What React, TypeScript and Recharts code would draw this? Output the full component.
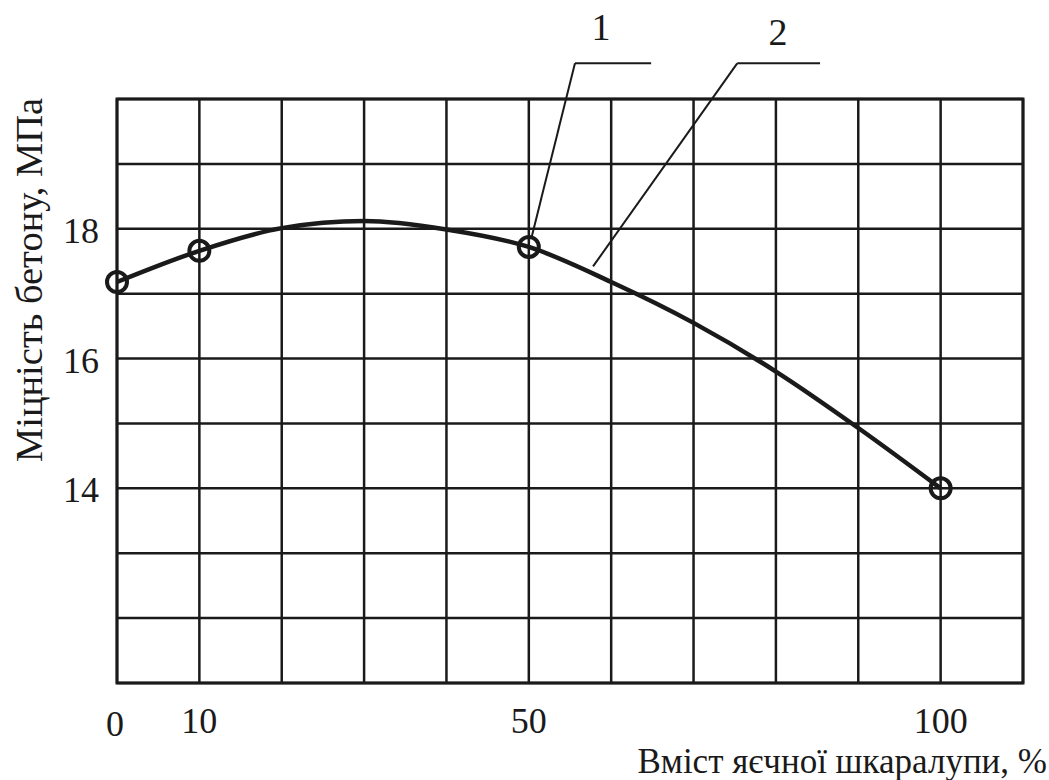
import React from "react"
import {
  ComposedChart,
  Line,
  Scatter,
  XAxis,
  YAxis,
  CartesianGrid,
  ReferenceArea,
  ReferenceLine,
} from "recharts"

// fitted curve, every 10 %
const curveX = [0, 10, 20, 30, 40, 50, 60, 70, 80, 90, 100]
const curveStrength = [17.18, 17.66, 18.01, 18.12, 17.99, 17.72, 17.18, 16.55, 15.8, 14.93, 14.0]

// measured points (circles)
const measuredX = [0, 10, 50, 100]
const measuredStrength = [17.18, 17.66, 17.72, 14.0]

const xGridTicks = [0, 10, 20, 30, 40, 50, 60, 70, 80, 90, 100, 110]
const xTickLabels = [0, 10, 50, 100]
const yGridTicks = [11, 12, 13, 14, 15, 16, 17, 18, 19, 20]
const yTickLabels = [14, 16, 18]

const curveRows = curveX.map((x, i) => ({ x, strength: curveStrength[i] }))
const pointRows = measuredX.map((x, i) => ({ x, strength: measuredStrength[i] }))

const FONT = "Liberation Serif"
const INK = "#1a1a1a"
const txt = (size: number) => ({ fontFamily: FONT, fontSize: size, fill: INK })

function XTick(props: any) {
  const { x, y, payload } = props
  if (!xTickLabels.includes(payload.value)) return <g />
  const zero = payload.value === 0
  return (
    <text x={x - (zero ? 2 : 0)} y={y + (zero ? 53 : 50)} textAnchor="middle" style={txt(36)}>
      {payload.value}
    </text>
  )
}

function YTick(props: any) {
  const { x, y, payload } = props
  if (!yTickLabels.includes(payload.value)) return <g />
  return (
    <text x={x - 18} y={y + 14} textAnchor="end" style={txt(36)}>
      {payload.value}
    </text>
  )
}

function Ring(props: any) {
  const { cx, cy } = props
  return <circle cx={cx} cy={cy} r={10} fill="none" stroke={INK} strokeWidth={4} />
}

function Callout(props: any) {
  const { viewBox, value } = props
  if (!viewBox) return null
  return (
    <text x={viewBox.x} y={viewBox.y} textAnchor="middle" style={txt(38)}>
      {value}
    </text>
  )
}

export default function App() {
  return (
    <div style={{ position: "absolute", left: 0, top: 0, background: "#fff" }}>
      <ComposedChart
        width={1049}
        height={780}
        margin={{ top: 99, right: 26, left: 0, bottom: 0 }}
      >
        <CartesianGrid stroke={INK} strokeWidth={2.5} />
        <XAxis
          type="number"
          dataKey="x"
          domain={[0, 110]}
          ticks={xGridTicks}
          interval={0}
          height={97}
          axisLine={false}
          tickLine={false}
          tickSize={0}
          tickMargin={0}
          tick={<XTick />}
          label={({ viewBox }: any) => (
            <text
              x={viewBox.x + viewBox.width + 24}
              y={viewBox.y + 90}
              textAnchor="end"
              style={txt(35)}
            >
              Вміст яєчної шкаралупи, %
            </text>
          )}
        />
        <YAxis
          type="number"
          domain={[11, 20]}
          ticks={yGridTicks}
          interval={0}
          width={117}
          axisLine={false}
          tickLine={false}
          tickSize={0}
          tickMargin={0}
          tick={<YTick />}
          label={({ viewBox }: any) => {
            const bx = 42
            const cy = viewBox.y + 181
            return (
              <text
                x={bx}
                y={cy}
                transform={`rotate(-90 ${bx} ${cy})`}
                textAnchor="middle"
                style={txt(38.5)}
              >
                Міцність бетону, МПа
              </text>
            )
          }}
        />
        <ReferenceArea x1={0} x2={110} y1={11} y2={20} fill="none" stroke={INK} strokeWidth={3} />

        {/* leader for 1 */}
        <ReferenceLine
          segment={[{ x: 55.6, y: 20.55 }, { x: 64.85, y: 20.55 }]}
          stroke={INK}
          strokeWidth={2}
          ifOverflow="visible"
        />
        <ReferenceLine
          segment={[{ x: 50.3, y: 17.85 }, { x: 55.6, y: 20.55 }]}
          stroke={INK}
          strokeWidth={2}
          ifOverflow="visible"
        />
        {/* leader for 2 */}
        <ReferenceLine
          segment={[{ x: 75.3, y: 20.55 }, { x: 85.36, y: 20.55 }]}
          stroke={INK}
          strokeWidth={2}
          ifOverflow="visible"
        />
        <ReferenceLine
          segment={[{ x: 57.8, y: 17.42 }, { x: 75.3, y: 20.55 }]}
          stroke={INK}
          strokeWidth={2}
          ifOverflow="visible"
        />
        <ReferenceLine
          segment={[{ x: 58.77, y: 20.91 }, { x: 58.77, y: 20.91 }]}
          stroke="none"
          ifOverflow="visible"
          label={<Callout value="1" />}
        />
        <ReferenceLine
          segment={[{ x: 80.26, y: 20.83 }, { x: 80.26, y: 20.83 }]}
          stroke="none"
          ifOverflow="visible"
          label={<Callout value="2" />}
        />

        <Line
          data={curveRows}
          dataKey="strength"
          type="monotone"
          stroke={INK}
          strokeWidth={4.5}
          dot={false}
          activeDot={false}
          isAnimationActive={false}
        />
        <Scatter
          data={pointRows}
          dataKey="strength"
          shape={<Ring />}
          isAnimationActive={false}
        />
      </ComposedChart>
    </div>
  )
}
